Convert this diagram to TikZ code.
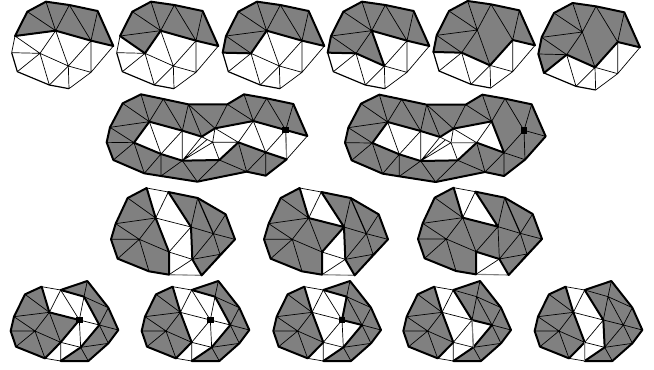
\documentclass[tikz,border=0pt]{standalone}
\tikzset{
  greyfill/.style={fill={rgb,255:red,128;green,128;blue,128},even odd rule},
  thinedge/.style={draw=black,line width=0.7pt,line join=round},
  medge/.style={draw=black,line width=1.2pt,line join=round},
  thickedge/.style={draw=black,line width=2pt,line join=round,line cap=round},
  greyedge/.style={draw={rgb,255:red,128;green,128;blue,128},line width=1.1pt},
  marker/.style={fill=black,minimum size=6.5pt,inner sep=0pt,rectangle}
}
% top row mesh
\newcommand\topmesh[3]{\begin{scope}[shift={(#1,#2)}]
\coordinate (a) at (45,108);\coordinate (b) at (82,35);\coordinate (c) at (138,5);\coordinate (d) at (208,15);
\coordinate (e) at (293,33);\coordinate (f) at (340,138);\coordinate (g) at (273,122);\coordinate (h) at (167,92);
\coordinate (i) at (120,160);\coordinate (j) at (205,198);\coordinate (k) at (35,158);\coordinate (l) at (52,215);
\coordinate (m) at (148,255);\coordinate (n) at (207,266);\coordinate (o) at (273,217);
\fill[greyfill] #3;
\draw[thinedge] (a)--(h) (b)--(h) (c)--(h) (d)--(h) (d)--(g) (e)--(g) (a)--(k) (a)--(i) (k)--(i) (l)--(i) (i)--(h) (i)--(j) (i)--(m)
  (m)--(j) (n)--(j) (h)--(j) (g)--(j) (g)--(o) (j)--(o) (n)--(o) (o)--(f);
\draw[medge] (k)--(l)--(m)--(n);
\draw[thickedge] #3;
\end{scope}}
% second row mesh
\newcommand\bigmesh[4]{\begin{scope}[shift={(#1,#2)}]
\coordinate (A) at (20,157);\coordinate (B) at (30,112);\coordinate (C) at (68,40);\coordinate (D) at (123,13);
\coordinate (E) at (190,27);\coordinate (F) at (265,43);\coordinate (G) at (382,43);\coordinate (H) at (432,13);
\coordinate (I) at (500,25);\coordinate (J) at (580,42);\coordinate (K) at (622,138);\coordinate (L) at (560,208);
\coordinate (M) at (497,257);\coordinate (N) at (440,245);\coordinate (O) at (292,275);\coordinate (Pn) at (183,258);
\coordinate (Pm) at (133,250);\coordinate (P) at (40,210);\coordinate (Q) at (148,95);\coordinate (R) at (102,158);
\coordinate (S) at (183,192);\coordinate (T) at (247,122);\coordinate (U) at (247,212);\coordinate (V) at (305,140);
\coordinate (W) at (345,115);\coordinate (X) at (338,157);\coordinate (Y) at (358,210);\coordinate (Z) at (415,157);
\coordinate (AA) at (460,93);\coordinate (AB) at (497,187);\coordinate (AC) at (557,120);\coordinate (VX) at (322,148);
\fill[greyfill] #3;
\draw[thinedge] (B)--(Q) (C)--(Q) (D)--(Q) (E)--(Q) (E)--(T) (F)--(T) (F)--(V) (F)--(W) (G)--(W) (G)--(AA) (H)--(AA) (I)--(AA) (I)--(AC) (J)--(AC)
  (B)--(R) (A)--(R) (P)--(R) (R)--(Pm) (Q)--(S) (S)--(T) (S)--(Pm) (S)--(Pn) (Pn)--(U) (U)--(O) (Y)--(O) (Y)--(N) (Z)--(N) (N)--(AB) (AB)--(M)
  (Z)--(AA) (AA)--(AB) (AC)--(AB) (AC)--(L) (AC)--(K) (K)--(L) (AB)--(L) (M)--(L) (T)--(U) (U)--(V) (U)--(VX) (U)--(X) (V)--(X) (W)--(X) (X)--(Y) (X)--(Z) (W)--(Z);
#4
\draw[thickedge] #3;
\node[marker] (sq) at (AC) {};
\end{scope}}
% third row mesh
\newcommand\midmesh[3]{\begin{scope}[shift={(#1,#2)}]
\coordinate (a) at (32,125);\coordinate (k) at (18,172);\coordinate (b) at (68,48);\coordinate (c) at (125,18);
\coordinate (d) at (190,30);\coordinate (e) at (278,48);\coordinate (p) at (362,97);\coordinate (q) at (390,172);
\coordinate (v) at (345,217);\coordinate (u) at (290,280);\coordinate (t) at (262,232);\coordinate (n) at (192,278);
\coordinate (m) at (132,268);\coordinate (l) at (38,230);\coordinate (h) at (152,108);\coordinate (i) at (103,172);
\coordinate (j) at (192,210);\coordinate (g) at (258,135);\coordinate (s) at (325,155);
\fill[greyfill] #3;
\draw[thinedge] (a)--(h) (b)--(h) (a)--(i) (k)--(i) (l)--(i) (i)--(h) (i)--(j) (i)--(m) (h)--(j) (c)--(d) (d)--(h) (h)--(g) (g)--(j) (g)--(t)
  (j)--(t) (n)--(t) (j)--(n) (e)--(g) (p)--(s) (g)--(s) (s)--(q) (s)--(t) (s)--(v) (q)--(v) (t)--(v) (u)--(v) (d)--(g);
\draw[medge] (e)--(s);
\draw[greyedge] (n)--(u);
\draw[thickedge] #3;
\end{scope}}
% bottom row mesh
\newcommand\lowmesh[4]{\begin{scope}[shift={(#1,#2)}]
\coordinate (a) at (42,125);\coordinate (k) at (32,168);\coordinate (b) at (75,58);\coordinate (c) at (125,35);
\coordinate (d) at (182,45);\coordinate (e) at (262,18);\coordinate (p) at (325,98);\coordinate (q) at (355,165);
\coordinate (z) at (325,205);\coordinate (r) at (265,258);\coordinate (n) at (182,258);\coordinate (y) at (242,217);
\coordinate (w) at (298,150);\coordinate (x) at (252,65);\coordinate (m) at (135,250);\coordinate (l) at (48,215);
\coordinate (h) at (148,112);\coordinate (i) at (105,168);\coordinate (j) at (182,202);\coordinate (g) at (238,135);
\fill[greyfill] #3;
\draw[thinedge] (a)--(h) (b)--(h) (a)--(i) (k)--(i) (l)--(i) (i)--(h) (i)--(j) (i)--(m) (h)--(j) (h)--(g) (c)--(d) (d)--(h) (d)--(g) (d)--(x)
  (x)--(g) (e)--(x) (x)--(p) (x)--(w) (p)--(w) (w)--(q) (w)--(z) (y)--(z) (y)--(r) (g)--(w) (g)--(y) (g)--(j) (w)--(y) (j)--(y) (j)--(n) (j)--(m) (n)--(y) (m)--(n);
\draw[thickedge] #3;
#4
\end{scope}}
\begin{document}
\begin{tikzpicture}[x=0.33333pt,y=-0.33333pt]
\useasboundingbox (0,0) rectangle (1962,1107);
% top row
\topmesh{0}{0}{(a)--(b)--(c)--(d)--(e)--(f)--(g)--(h)--cycle}
\topmesh{315}{0}{(a)--(b)--(c)--(d)--(e)--(f)--(g)--(h)--(i)--cycle}
\topmesh{633}{0}{(k)--(a)--(b)--(c)--(d)--(e)--(f)--(g)--(h)--(i)--cycle}
\topmesh{948}{0}{(k)--(a)--(b)--(c)--(d)--(e)--(f)--(g)--(h)--(j)--(i)--cycle}
\topmesh{1265}{-2}{(k)--(a)--(b)--(c)--(d)--(e)--(f)--(g)--(j)--(i)--cycle}
\topmesh{1580}{4}{(l)--(k)--(a)--(b)--(c)--(d)--(e)--(f)--(g)--(j)--(i)--cycle}
% second row
\bigmesh{300}{270}{(A)--(B)--(C)--(D)--(E)--(F)--(G)--(H)--(I)--(J)--(K)--(AC)--(AA)--(W)--(V)--(T)--(Q)--(R)--(S)--(U)--(Y)--(Z)--(AB)--(L)--(M)--(N)--(O)--(Pn)--(Pm)--(P)--cycle}{\draw[greyedge] (AC)--(L);}
\bigmesh{1015}{271}{(A)--(B)--(C)--(D)--(E)--(F)--(G)--(H)--(I)--(J)--(K)--(L)--(M)--(N)--(O)--(Pn)--(Pm)--(P)--cycle (Q)--(T)--(V)--(W)--(AA)--(AB)--(Z)--(Y)--(U)--(S)--(R)--cycle}{\draw[greyedge] (X)--(Z);}
% third row
\midmesh{315}{546}{(k)--(a)--(b)--(c)--(h)--(j)--(n)--(m)--(l)--cycle (d)--(e)--(p)--(q)--(u)--(t)--(g)--cycle}
\midmesh{774}{546}{(k)--(a)--(b)--(c)--(h)--(g)--(j)--(n)--(m)--(l)--cycle (d)--(e)--(p)--(q)--(u)--(t)--(g)--cycle}
\midmesh{1236}{545}{(k)--(a)--(b)--(c)--(h)--(g)--(d)--(e)--(p)--(q)--(u)--(t)--(j)--(n)--(m)--(l)--cycle}
% bottom row
\lowmesh{0}{825}{(k)--(a)--(b)--(c)--(h)--(g)--(j)--(m)--(l)--cycle (d)--(e)--(p)--(q)--(z)--(r)--(n)--(y)--(w)--(x)--cycle}{\node[marker] (s1) at (g) {};}
\lowmesh{393}{825}{(k)--(a)--(b)--(c)--(h)--(j)--(m)--(l)--cycle (d)--(e)--(p)--(q)--(z)--(r)--(n)--(y)--(w)--(x)--cycle}{\node[marker] (s2) at (g) {};}
\lowmesh{788}{825}{(k)--(a)--(b)--(c)--(h)--(j)--(m)--(l)--cycle (d)--(e)--(p)--(q)--(z)--(r)--(n)--(y)--(w)--(g)--(x)--cycle}{\node[marker] (s3) at (g) {};}
\lowmesh{1178}{825}{(k)--(a)--(b)--(c)--(h)--(j)--(m)--(l)--cycle (d)--(e)--(p)--(q)--(z)--(r)--(n)--(y)--(w)--(g)--cycle}{\draw[greyedge] (g)--(y);}
\lowmesh{1572}{825}{(k)--(a)--(b)--(c)--(h)--(j)--(m)--(l)--cycle (d)--(e)--(p)--(q)--(z)--(r)--(n)--(y)--(g)--cycle}{\draw[greyedge] (j)--(n);}
\end{tikzpicture}
\end{document}
